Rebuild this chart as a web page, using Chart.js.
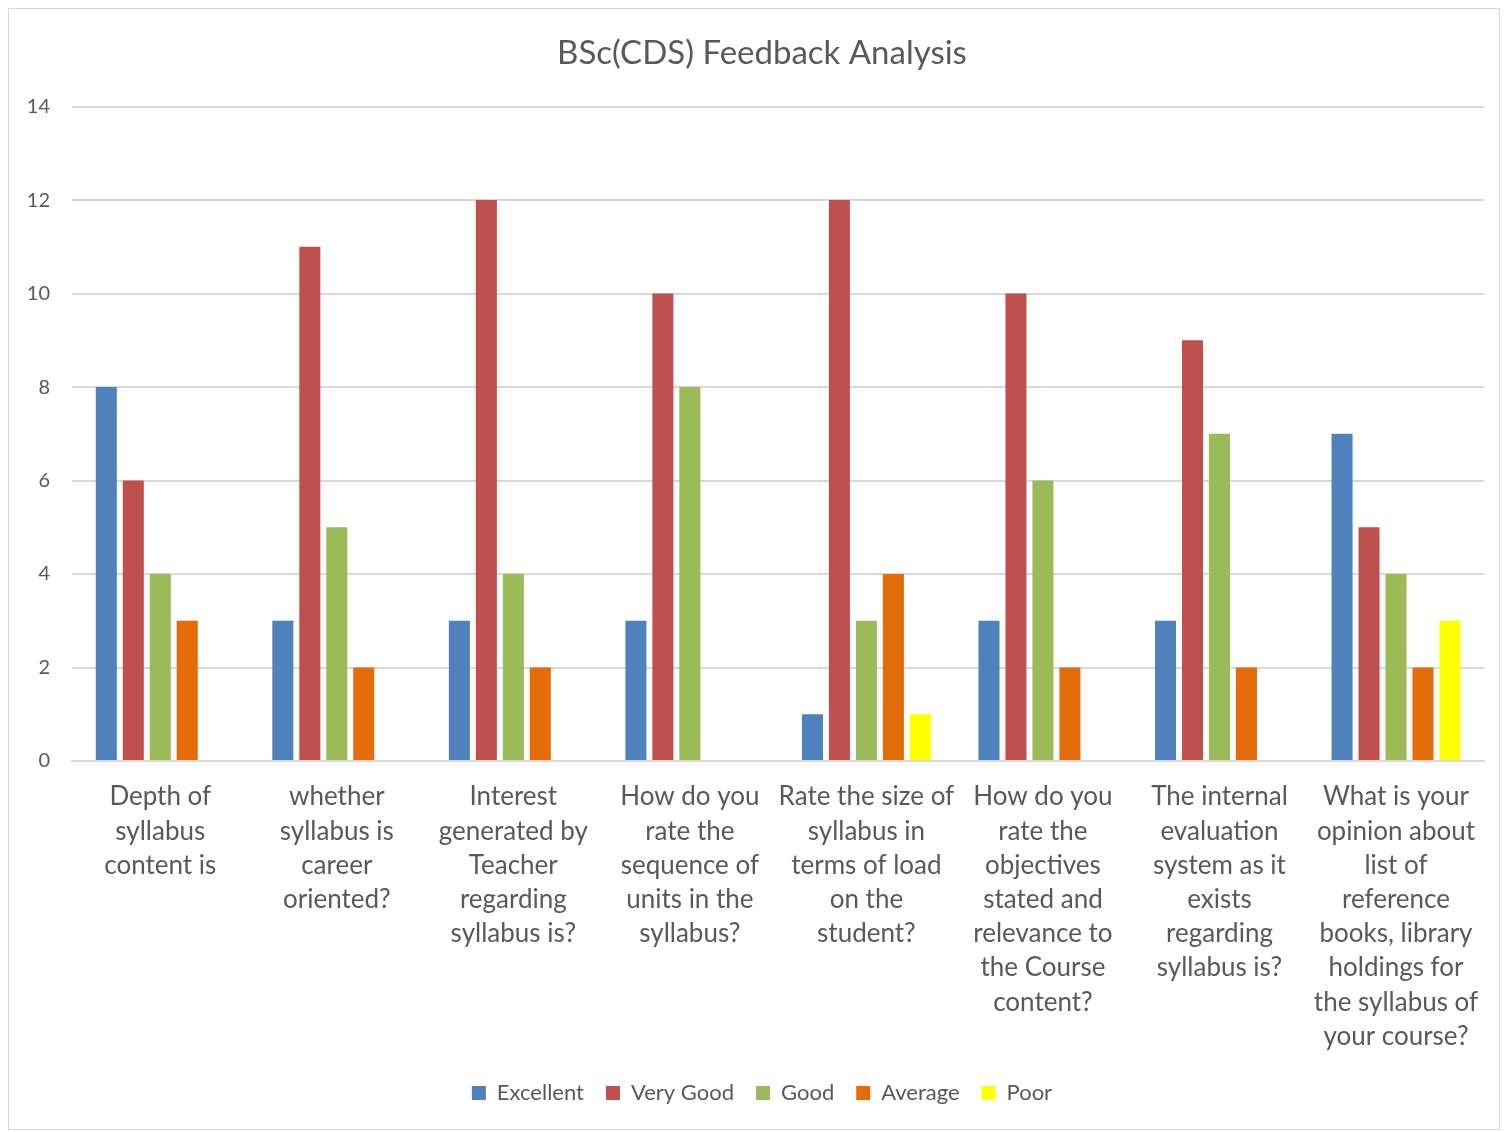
<!DOCTYPE html>
<html>
<head>
<meta charset="utf-8">
<script src="https://cdn.jsdelivr.net/npm/chart.js@4.4.1/dist/chart.umd.min.js"></script>
<style>
  html, body { margin: 0; padding: 0; background: #fff; }
  #frame {
    position: absolute; left: 8px; top: 8px;
    width: 1492px; height: 1122px;
    border: 1.5px solid #d9d9d9; box-sizing: border-box;
  }
  #wrap { position: absolute; left: 0; top: 0; width: 1489px; height: 1119px; }
</style>
</head>
<body>
<div id="frame"><div id="wrap"><canvas id="feedbackChart"></canvas></div></div>
<script>
  // ---- data ----
  const questions = [
    ["Depth of", "syllabus", "content is"],
    ["whether", "syllabus is", "career", "oriented?"],
    ["Interest", "generated by", "Teacher", "regarding", "syllabus is?"],
    ["How do you", "rate the", "sequence of", "units in the", "syllabus?"],
    ["Rate the size of", "syllabus in", "terms of load", "on the", "student?"],
    ["How do you", "rate the", "objectives", "stated and", "relevance to", "the Course", "content?"],
    ["The internal", "evaluation", "system as it", "exists", "regarding", "syllabus is?"],
    ["What is your", "opinion about", "list of", "reference", "books, library", "holdings for", "the syllabus of", "your course?"]
  ];
  const excellent = [8, 3, 3, 3, 1, 3, 3, 7];
  const veryGood  = [6, 11, 12, 10, 12, 10, 9, 5];
  const good      = [4, 5, 4, 8, 3, 6, 7, 4];
  const average   = [3, 2, 2, 0, 4, 2, 2, 2];
  const poor      = [0, 0, 0, 0, 1, 0, 0, 3];

  const FONT = "Lato";
  const TXT = "#595959";
  const GRID = "#d9d9d9";

  function makeSet(label, data, color)
  {
      return {
          label: label,
          data: data,
          backgroundColor: color,
          borderWidth: 0,
          categoryPercentage: 0.764,
          barPercentage: 0.78
      };
  }

  // title and legend sit a little right of the canvas centre in the original
  const shiftTitleLegend = {
      id: "shiftTitleLegend",
      afterLayout: function(chart) {
          if (chart.titleBlock) chart.titleBlock.left += 30;
          if (chart.legend) chart.legend.left += 30;
      }
  };

  new Chart(document.getElementById("feedbackChart"), {
      type: "bar",
      data: {
          labels: questions,
          datasets: [
              makeSet("Excellent", excellent, "#4F81BD"),
              makeSet("Very Good", veryGood, "#C0504D"),
              makeSet("Good", good, "#9BBB59"),
              makeSet("Average", average, "#E46C0A"),
              makeSet("Poor", poor, "#FFFF00")
          ]
      },
      plugins: [shiftTitleLegend],
      options: {
          responsive: true,
          maintainAspectRatio: false,
          animation: false,
          layout: { padding: { left: 0, right: 13, top: 0, bottom: 14 } },
          plugins: {
              title: {
                  display: true,
                  text: "BSc(CDS) Feedback Analysis",
                  color: TXT,
                  font: { family: FONT, size: 33, weight: "normal" },
                  padding: { top: 25, bottom: 33 }
              },
              legend: {
                  position: "bottom",
                  labels: {
                      color: TXT,
                      font: { family: FONT, size: 22 },
                      boxWidth: 14,
                      boxHeight: 14,
                      padding: 22
                  }
              },
              tooltip: { enabled: false }
          },
          scales: {
              x: {
                  grid: { display: false, drawTicks: false },
                  border: { display: true, color: GRID, width: 2 },
                  ticks: {
                      color: TXT,
                      font: { family: FONT, size: 26, lineHeight: 1.315 },
                      padding: 19,
                      maxRotation: 0,
                      minRotation: 0,
                      autoSkip: false
                  },
                  afterFit: function(scale) { scale.height = 299; }
              },
              y: {
                  min: 0,
                  max: 14,
                  ticks: {
                      stepSize: 2,
                      color: TXT,
                      font: { family: FONT, size: 20 },
                      padding: 22
                  },
                  grid: { color: GRID, lineWidth: 2, drawTicks: false },
                  border: { display: false },
                  afterFit: function(scale) { scale.width = 63; }
              }
          }
      }
  });
</script>
</body>
</html>
